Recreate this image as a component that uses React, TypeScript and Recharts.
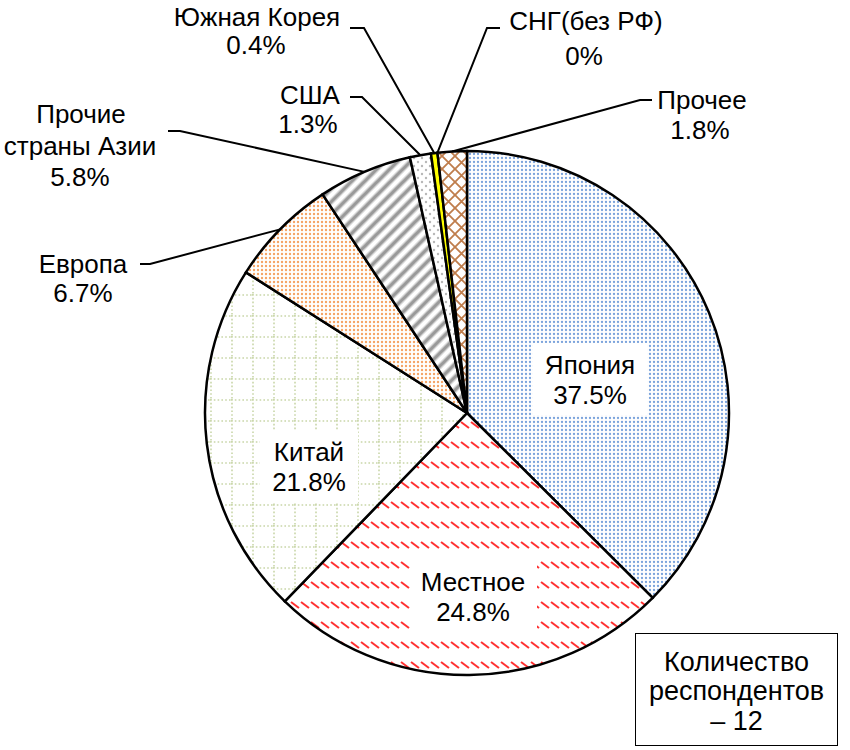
import { Cell, Pie, PieChart } from 'recharts';

const categories = [
  'Япония',
  'Местное',
  'Китай',
  'Европа',
  'Прочие страны Азии',
  'США',
  'Южная Корея',
  'СНГ(без РФ)',
  'Прочее',
];
const shares = [37.5, 24.8, 21.8, 6.7, 5.8, 1.3, 0.4, 0, 1.8];
const labelText = [
  ['Япония'],
  ['Местное'],
  ['Китай'],
  ['Европа'],
  ['Прочие', 'страны Азии'],
  ['США'],
  ['Южная Корея'],
  ['СНГ(без РФ)'],
  ['Прочее'],
];
const respondents = 12;

const data = categories.map((name, i) => ({ name, value: shares[i] }));

const FILLS = [
  'url(#pJapan)',
  'url(#pLocal)',
  'url(#pChina)',
  'url(#pEurope)',
  'url(#pAsia)',
  'url(#pUsa)',
  '#ffff00',
  '#ffffff',
  'url(#pOther)',
];

// text centres per slice; leader = [x where line meets text, x of bend, y]
type LabelPos = {
  x: number[];
  y: number[];
  box?: [number, number, number, number];
  leader?: [number, number, number];
};
const LABEL_POS: LabelPos[] = [
  { x: [590, 590], y: [365, 395], box: [533, 343, 114, 72] },
  { x: [473, 473], y: [582, 612], box: [410, 561, 127, 70] },
  { x: [309, 309], y: [452, 482], box: [260, 431, 98, 72] },
  { x: [83, 83], y: [264, 293], leader: [140, 150, 264] },
  { x: [81, 80, 80], y: [114, 146, 177], leader: [168, 180, 131] },
  { x: [310, 308], y: [95, 124], leader: [350, 362, 97] },
  { x: [257, 256], y: [17, 45], leader: [350, 364, 28] },
  { x: [586, 584], y: [21, 56], leader: [500, 487, 28] },
  { x: [702, 700], y: [100, 130], leader: [652, 640, 100] },
];

const FONT = '"Liberation Sans", Arial, sans-serif';
const RAD = Math.PI / 180;

function renderLabel(props: any) {
  const { cx, cy, midAngle, outerRadius, index, value } = props;
  const pos = LABEL_POS[index];
  const lines = [...labelText[index], `${value}%`];
  const ex = cx + outerRadius * Math.cos(-midAngle * RAD);
  const ey = cy + outerRadius * Math.sin(-midAngle * RAD);
  return (
    <g key={`lbl-${index}`}>
      {pos.box && (
        <rect x={pos.box[0]} y={pos.box[1]} width={pos.box[2]} height={pos.box[3]} fill="#fff" />
      )}
      {pos.leader && (
        <polyline
          points={`${pos.leader[0]},${pos.leader[2]} ${pos.leader[1]},${pos.leader[2]} ${ex},${ey}`}
          fill="none"
          stroke="#000"
          strokeWidth={2}
        />
      )}
      {lines.map((t, k) => (
        <text
          key={k}
          x={pos.x[k]}
          y={pos.y[k] + 9}
          textAnchor="middle"
          fontSize={26}
          fontFamily={FONT}
          fill="#000"
        >
          {t}
        </text>
      ))}
    </g>
  );
}

function Patterns() {
  return (
    <svg width={0} height={0} style={{ position: 'absolute' }}>
      <defs>
        <pattern id="pJapan" width="4" height="4" patternUnits="userSpaceOnUse">
          <rect width="4" height="4" fill="#fff" />
          <circle cx="2" cy="2" r="1.15" fill="#7aa3dc" />
        </pattern>
        <pattern id="pLocal" width="10" height="20" patternUnits="userSpaceOnUse">
          <rect width="10" height="20" fill="#fff" />
          <line x1="1" y1="2" x2="9" y2="8" stroke="#ff3030" strokeWidth="2" />
        </pattern>
        <pattern id="pChina" width="21" height="21" patternUnits="userSpaceOnUse">
          <rect width="21" height="21" fill="#fff" />
          <path d="M0 1 H21 M1 0 V21" stroke="#c9d6a8" strokeWidth="1.6" strokeDasharray="1.6 2.2" />
        </pattern>
        <pattern id="pEurope" width="4" height="4" patternUnits="userSpaceOnUse">
          <rect width="4" height="4" fill="#fff" />
          <circle cx="2" cy="2" r="1.2" fill="#f5a465" />
        </pattern>
        <pattern id="pAsia" width="13" height="13" patternUnits="userSpaceOnUse">
          <rect width="13" height="13" fill="#fff" />
          <path d="M-3 16 L16 -3 M-10 10 L10 -10 M3 23 L23 3" stroke="#d4d4d4" strokeWidth="5.5" />
          <path d="M-3 16 L16 -3 M-10 10 L10 -10 M3 23 L23 3" stroke="#9a9a9a" strokeWidth="3" />
        </pattern>
        <pattern id="pUsa" width="8" height="8" patternUnits="userSpaceOnUse">
          <rect width="8" height="8" fill="#fff" />
          <circle cx="2" cy="2" r="1.2" fill="#b8b8b8" />
          <circle cx="6" cy="6" r="1.2" fill="#b8b8b8" />
        </pattern>
        <pattern id="pOther" width="13" height="13" patternUnits="userSpaceOnUse">
          <rect width="13" height="13" fill="#fff" />
          <path d="M0 0 L13 13 M13 0 L0 13" stroke="#bf7d4c" strokeWidth="1.8" />
        </pattern>
      </defs>
    </svg>
  );
}

export default function App() {
  return (
    <div style={{ position: 'absolute', left: 0, top: 0, width: 850, height: 750, background: '#fff' }}>
      <Patterns />
      <PieChart width={850} height={750} margin={{ top: 0, right: 0, bottom: 0, left: 0 }}>
        <Pie
          data={data}
          dataKey="value"
          nameKey="name"
          cx={467}
          cy={413}
          outerRadius={262}
          startAngle={90}
          endAngle={-270}
          stroke="#000"
          strokeWidth={2.5}
          label={renderLabel}
          labelLine={false}
          isAnimationActive={false}
        >
          {data.map((d, i) => (
            <Cell key={d.name} fill={FILLS[i]} />
          ))}
        </Pie>
      </PieChart>
      <div
        style={{
          position: 'absolute',
          left: 635,
          top: 633,
          width: 201,
          height: 111,
          border: '1.5px solid #000',
          background: '#fff',
          fontFamily: FONT,
          fontSize: 27,
          lineHeight: '29.5px',
          textAlign: 'center',
          display: 'flex',
          alignItems: 'center',
          justifyContent: 'center',
          boxSizing: 'content-box',
        }}
      >
        <div style={{ paddingTop: 5 }}>
          Количество
          <br />
          респондентов
          <br />– {respondents}
        </div>
      </div>
    </div>
  );
}
